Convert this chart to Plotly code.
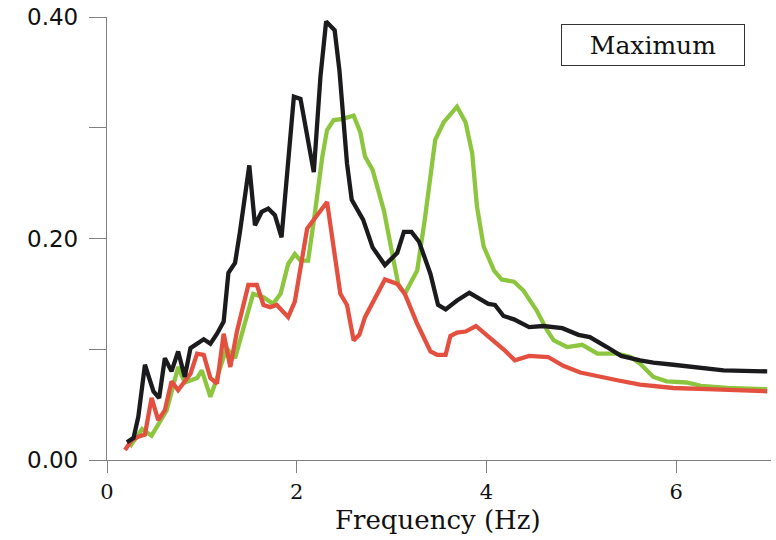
import plotly.graph_objects as go

# Frequency (Hz) / amplitude
black_f = [0.21, 0.28, 0.33, 0.40, 0.49, 0.55, 0.61, 0.68, 0.75, 0.82, 0.88, 0.95, 1.02, 1.09, 1.16,
           1.23, 1.28, 1.35, 1.40, 1.50, 1.56, 1.63, 1.70, 1.77, 1.84, 1.97, 2.04, 2.18, 2.25, 2.31,
           2.40, 2.45, 2.53, 2.58, 2.70, 2.80, 2.93, 3.06, 3.13, 3.21, 3.29, 3.41, 3.49, 3.57, 3.69,
           3.82, 3.92, 4.02, 4.09, 4.18, 4.29, 4.45, 4.60, 4.80, 4.97, 5.09, 5.27, 5.42, 5.62, 5.76,
           5.97, 6.17, 6.50, 6.96]
black_v = [0.016, 0.020, 0.039, 0.086, 0.062, 0.056, 0.092, 0.080, 0.098, 0.075, 0.101, 0.105, 0.109, 0.105, 0.114,
           0.125, 0.169, 0.178, 0.205, 0.266, 0.212, 0.224, 0.227, 0.221, 0.201, 0.328, 0.326, 0.260, 0.346, 0.396,
           0.388, 0.352, 0.268, 0.235, 0.217, 0.192, 0.176, 0.187, 0.206, 0.206, 0.197, 0.168, 0.140, 0.136, 0.144,
           0.151, 0.146, 0.141, 0.140, 0.130, 0.127, 0.120, 0.121, 0.119, 0.113, 0.111, 0.102, 0.094, 0.090, 0.088,
           0.086, 0.084, 0.081, 0.080]

green_f = [0.24, 0.29, 0.37, 0.47, 0.63, 0.75, 0.82, 0.95, 1.00, 1.09, 1.14, 1.26, 1.35, 1.54, 1.65,
           1.75, 1.83, 1.91, 1.98, 2.04, 2.12, 2.19, 2.27, 2.32, 2.39, 2.49, 2.60, 2.67, 2.72, 2.80,
           2.92, 3.01, 3.07, 3.14, 3.27, 3.35, 3.46, 3.55, 3.69, 3.78, 3.85, 3.90, 3.97, 4.08, 4.16,
           4.29, 4.39, 4.53, 4.64, 4.71, 4.85, 5.01, 5.17, 5.38, 5.52, 5.62, 5.76, 5.90, 6.11, 6.26,
           6.54, 6.96]
green_v = [0.012, 0.018, 0.028, 0.022, 0.045, 0.084, 0.070, 0.074, 0.081, 0.057, 0.069, 0.101, 0.092, 0.150, 0.147,
           0.141, 0.150, 0.177, 0.186, 0.180, 0.180, 0.222, 0.274, 0.298, 0.307, 0.308, 0.311, 0.296, 0.274, 0.262,
           0.225, 0.185, 0.159, 0.150, 0.171, 0.217, 0.289, 0.305, 0.319, 0.305, 0.277, 0.229, 0.193, 0.171, 0.163,
           0.161, 0.153, 0.135, 0.117, 0.108, 0.102, 0.104, 0.096, 0.096, 0.093, 0.087, 0.075, 0.071, 0.070, 0.067,
           0.065, 0.064]

red_f = [0.19, 0.26, 0.33, 0.40, 0.47, 0.54, 0.61, 0.68, 0.75, 0.82, 0.88, 0.95, 1.02, 1.09, 1.16,
         1.23, 1.30, 1.37, 1.49, 1.58, 1.65, 1.72, 1.79, 1.91, 1.98, 2.11, 2.16, 2.32, 2.46, 2.53,
         2.60, 2.66, 2.72, 2.85, 2.93, 3.06, 3.14, 3.27, 3.41, 3.48, 3.57, 3.62, 3.69, 3.78, 3.89,
         4.04, 4.18, 4.30, 4.45, 4.65, 4.81, 4.99, 5.20, 5.38, 5.62, 5.97, 6.33, 6.96]
red_v = [0.009, 0.018, 0.021, 0.023, 0.056, 0.036, 0.045, 0.071, 0.063, 0.071, 0.078, 0.096, 0.095, 0.074, 0.069,
         0.114, 0.084, 0.116, 0.158, 0.158, 0.140, 0.138, 0.140, 0.129, 0.143, 0.209, 0.215, 0.233, 0.150, 0.140,
         0.108, 0.113, 0.129, 0.150, 0.163, 0.159, 0.150, 0.123, 0.098, 0.095, 0.095, 0.112, 0.115, 0.116, 0.121,
         0.110, 0.100, 0.090, 0.094, 0.093, 0.085, 0.079, 0.075, 0.072, 0.068, 0.065, 0.064, 0.062]

x_ticks = [0, 2, 4, 6]
x_tick_text = ["0", "2", "4", "6"]
y_ticks = [0.0, 0.1, 0.2, 0.3, 0.4]
y_tick_text = ["0.00", "", "0.20", "", "0.40"]

fig = go.Figure()
fig.add_trace(go.Scatter(x=green_f, y=green_v, mode="lines",
                         line=dict(color="#8cc63e", width=4.3), showlegend=False))
fig.add_trace(go.Scatter(x=red_f, y=red_v, mode="lines",
                         line=dict(color="#e4503f", width=4.3), showlegend=False))
fig.add_trace(go.Scatter(x=black_f, y=black_v, mode="lines",
                         line=dict(color="#1b1b1e", width=4.3), showlegend=False))

axis_color = "#808080"
fig.update_layout(
    width=776, height=540,
    margin=dict(l=107, r=5, t=17, b=80),
    paper_bgcolor="white", plot_bgcolor="white",
    xaxis=dict(range=[0, 7.0], showgrid=False, zeroline=False, automargin=False,
               showline=True, linecolor=axis_color, linewidth=1.3,
               ticks="outside", ticklen=12, tickcolor=axis_color, tickwidth=1.3,
               tickvals=x_ticks, ticktext=x_tick_text, ticklabelstandoff=1,
               tickfont=dict(family="DejaVu Serif", size=21, color="#111")),
    yaxis=dict(range=[0, 0.40], showgrid=False, zeroline=False, automargin=False,
               showline=True, linecolor=axis_color, linewidth=1.3,
               ticks="outside", ticklen=17, tickcolor=axis_color, tickwidth=1.3,
               tickvals=y_ticks, ticktext=y_tick_text, ticklabelstandoff=6,
               tickfont=dict(family="DejaVu Sans", size=23, color="#111")),
    annotations=[
        dict(text="Frequency (Hz)", xref="paper", yref="paper", x=0.499, y=-0.135,
             xanchor="center", yanchor="middle", showarrow=False,
             font=dict(family="DejaVu Serif", size=26, color="#111")),
        dict(text="Maximum", xref="paper", yref="paper", x=0.823, y=0.937,
             xanchor="center", yanchor="middle", showarrow=False,
             font=dict(family="DejaVu Serif", size=25, color="#111"),
             bordercolor="#333", borderwidth=1, borderpad=2,
             width=178, height=36, bgcolor="white"),
    ],
)

fig.write_html("out.html", config={"displayModeBar": False},
               post_script="document.body.style.margin='0';")
